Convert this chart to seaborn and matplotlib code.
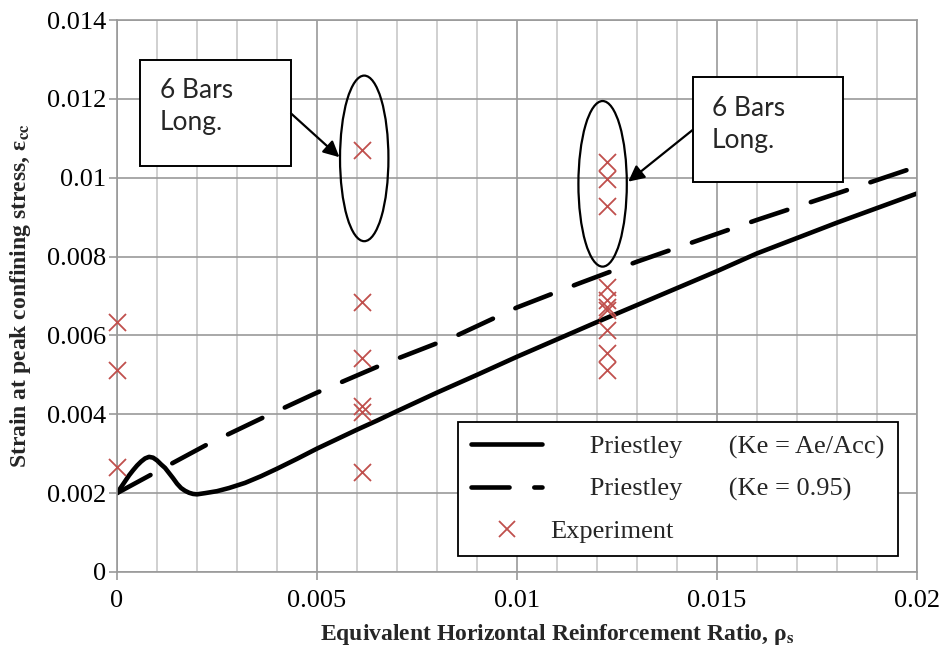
import seaborn as sns
import matplotlib.pyplot as plt
from matplotlib.lines import Line2D
from matplotlib.patches import Ellipse, Rectangle
from matplotlib.ticker import MultipleLocator, FuncFormatter

# Priestley model, Ke = Ae/Acc
rho_ke_area = [0, 0.0001, 0.0002, 0.0003, 0.0004, 0.0005, 0.0006, 0.0007,
               0.0008, 0.0009, 0.001, 0.0011, 0.0012, 0.0013, 0.0014, 0.0015,
               0.0016, 0.0017, 0.0018, 0.0019, 0.002, 0.0022, 0.0025, 0.0028,
               0.0032, 0.0036, 0.004, 0.0045, 0.005, 0.0055, 0.006, 0.0065,
               0.007, 0.008, 0.009, 0.01, 0.011, 0.012, 0.013, 0.014, 0.015,
               0.016, 0.017, 0.018, 0.019, 0.02]
eps_ke_area = [0.002, 0.00215, 0.0023, 0.00245, 0.00258, 0.0027, 0.0028,
               0.00288, 0.00292, 0.0029, 0.00283, 0.00273, 0.00264, 0.00251,
               0.00238, 0.00224, 0.00213, 0.00206, 0.00201, 0.00198, 0.00197,
               0.002, 0.00205, 0.00213, 0.00226, 0.00243, 0.00262, 0.00287,
               0.00313, 0.00337, 0.00361, 0.00384, 0.00408, 0.00455, 0.005,
               0.00546, 0.0059, 0.00634, 0.00677, 0.0072, 0.00763, 0.00808,
               0.00847, 0.00886, 0.00923, 0.0096]

# Priestley model, Ke = 0.95
rho_ke_095 = [0, 0.001, 0.0023, 0.0037, 0.005, 0.0067, 0.0085, 0.01, 0.0115,
              0.013, 0.0145, 0.016, 0.018, 0.02]
eps_ke_095 = [0.002, 0.00255, 0.00326, 0.00394, 0.00455, 0.00529, 0.006,
              0.00671, 0.0073, 0.00787, 0.0084, 0.00893, 0.0096, 0.01028]

# experiment
rho_exp = [0, 0, 0,
           0.006125, 0.006125, 0.006125, 0.006125, 0.006125, 0.006125,
           0.01225, 0.01225, 0.01225, 0.01225, 0.01225, 0.01225, 0.01225,
           0.01225, 0.01225, 0.01225]
eps_exp = [0.00634, 0.00512, 0.00266,
           0.0107, 0.00684, 0.00542, 0.00421, 0.00406, 0.00254,
           0.01041, 0.00998, 0.00927, 0.00724, 0.0069, 0.00672, 0.00665,
           0.00614, 0.00555, 0.00512]

legend_labels = ["      Priestley       (Ke = Ae/Acc)",
                 "      Priestley       (Ke = 0.95)",
                 "Experiment"]
note_text = "6 Bars\nLong."

red = "#C0504D"
grid_major = "#9a9a9a"
grid_minor = "#c8c8c8"

sns.set_style("white")
plt.rcParams["font.family"] = ["Liberation Serif", "DejaVu Serif"]
plt.rcParams["mathtext.fontset"] = "stix"

fig = plt.figure(figsize=(9.47, 6.58), dpi=100)
ax = fig.add_axes([0.1236, 0.1307, 0.8447, 0.8389])

# curves
sns.lineplot(x=rho_ke_area, y=eps_ke_area, ax=ax, color="black", lw=3.3,
             sort=False, estimator=None, solid_capstyle="round",
             solid_joinstyle="round")
sns.lineplot(x=rho_ke_095, y=eps_ke_095, ax=ax, color="black", lw=3.3,
             sort=False, estimator=None, dash_capstyle="round")
ax.lines[-1].set_dashes([8.3, 5.4])

sns.scatterplot(x=rho_exp, y=eps_exp, ax=ax, marker="x", s=150, color=red,
                linewidth=1.3, clip_on=False, zorder=4)

# axes, grid
ax.set_xlim(0, 0.02)
ax.set_ylim(0, 0.014)
ax.xaxis.set_major_locator(MultipleLocator(0.005))
ax.xaxis.set_minor_locator(MultipleLocator(0.001))
ax.yaxis.set_major_locator(MultipleLocator(0.002))
fmt = FuncFormatter(lambda v, p: f"{v:g}")
ax.xaxis.set_major_formatter(fmt)
ax.yaxis.set_major_formatter(fmt)
ax.grid(True, which="major", color=grid_major, lw=1.2)
ax.grid(True, which="minor", axis="x", color=grid_minor, lw=1.2)
ax.set_axisbelow(True)
for s in ax.spines.values():
    s.set_color(grid_major)
    s.set_linewidth(1.2)
ax.tick_params(axis="both", which="major", direction="out", length=6,
               width=1.2, color=grid_major, labelsize=19, labelcolor="black")
ax.tick_params(axis="x", which="major", pad=7)
ax.tick_params(axis="y", which="major", pad=2)
ax.tick_params(axis="x", which="minor", length=0)
ax.tick_params(left=True, bottom=True)

ax.set_xlabel(r"Equivalent Horizontal Reinforcement Ratio, ρ$_\mathbf{s}$",
              fontsize=17, fontweight="bold")
ax.set_ylabel(r"Strain at peak confining stress, ε$_\mathbf{cc}$",
              fontsize=17, fontweight="bold")
ax.xaxis.set_label_coords(0.55, -0.09)
ax.yaxis.set_label_coords(-0.105, 0.5)

# legend
handles = [
    Line2D([], [], color="black", lw=3.3, solid_capstyle="round"),
    Line2D([], [], color="black", lw=3.3, dashes=[8.3, 5.4],
           dash_capstyle="round"),
    Line2D([], [], color=red, marker="x", ls="", ms=12, mew=1.3),
]
leg = ax.legend(handles, legend_labels, loc="upper left",
                bbox_to_anchor=(0.426, 0.272), borderaxespad=0,
                fontsize=19, handlelength=2.7, handletextpad=0.3,
                borderpad=0.5, labelspacing=0.7, fancybox=False,
                framealpha=1, edgecolor="black")
leg.get_frame().set_linewidth(1.3)

# callouts
for (x0, y0, x1, y1), (tx, ty) in [
        ((0.000575, 0.0103, 0.00435, 0.012986), (0.001075, 0.0118)),
        ((0.0144, 0.00989, 0.01815, 0.012555), (0.014875, 0.01136))]:
    ax.add_patch(Rectangle((x0, y0), x1 - x0, y1 - y0, facecolor="white",
                           edgecolor="black", lw=1.4, zorder=5))
    ax.text(tx, ty, note_text, fontsize=19, family="Lato", va="center",
            ha="left", linespacing=1.35, zorder=6)

for cx, cy in [(0.00618, 0.01049), (0.01214, 0.009845)]:
    ax.add_patch(Ellipse((cx, cy), 0.00121, 0.0042, fill=False,
                         edgecolor="black", lw=1.6, zorder=5))

for (sx, sy), (ex, ey) in [((0.00435, 0.01163), (0.00556, 0.01052)),
                           ((0.01439, 0.01121), (0.01278, 0.0099))]:
    ax.annotate("", xy=(ex, ey), xytext=(sx, sy),
                arrowprops=dict(arrowstyle="-|>", color="black", lw=1.6,
                                mutation_scale=24, shrinkA=0, shrinkB=0),
                zorder=6)

fig.savefig("out.png", dpi=100)
